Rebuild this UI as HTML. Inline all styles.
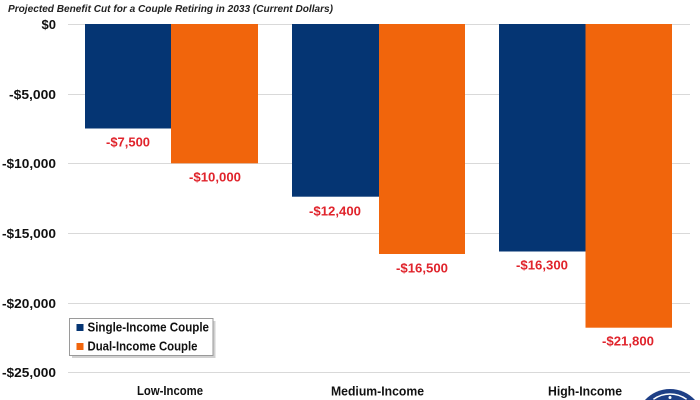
<!DOCTYPE html>
<html><head><meta charset="utf-8"><style>
html,body{margin:0;padding:0;background:#fff;width:700px;height:400px;overflow:hidden;}
svg{display:block;overflow:hidden;}
text{font-family:"Liberation Sans",Arial,sans-serif;font-weight:bold;}
</style></head><body>
<svg width="700" height="400" viewBox="0 0 700 400" xmlns="http://www.w3.org/2000/svg">
<rect width="700" height="400" fill="#fff"/>
<text x="8" y="12" font-size="10.5" font-style="italic" fill="#222" textLength="325" lengthAdjust="spacingAndGlyphs">Projected Benefit Cut for a Couple Retiring in 2033 (Current Dollars)</text>
<g stroke="#d9d9d9" stroke-width="1">
<line x1="68" y1="24.5" x2="690" y2="24.5"/>
<line x1="68" y1="94.5" x2="690" y2="94.5"/>
<line x1="68" y1="163.5" x2="690" y2="163.5"/>
<line x1="68" y1="233.5" x2="690" y2="233.5"/>
<line x1="68" y1="303.5" x2="690" y2="303.5"/>
<line x1="68" y1="372.5" x2="690" y2="372.5"/>
</g>
<g font-size="13" fill="#111" text-anchor="end">
<text x="56" y="29">$0</text>
<text x="56" y="99" textLength="47" lengthAdjust="spacingAndGlyphs">-$5,000</text>
<text x="56" y="168" textLength="54" lengthAdjust="spacingAndGlyphs">-$10,000</text>
<text x="56" y="238" textLength="54" lengthAdjust="spacingAndGlyphs">-$15,000</text>
<text x="56" y="308" textLength="54" lengthAdjust="spacingAndGlyphs">-$20,000</text>
<text x="56" y="377" textLength="54" lengthAdjust="spacingAndGlyphs">-$25,000</text>
</g>
<g fill="#053573">
<rect x="85" y="24" width="86" height="104.5"/>
<rect x="292" y="24" width="87" height="172.7"/>
<rect x="499" y="24" width="86.5" height="227.5"/>
</g>
<g fill="#f1650c">
<rect x="171" y="24" width="87" height="139.3"/>
<rect x="379" y="24" width="86" height="230"/>
<rect x="585.5" y="24" width="86.5" height="303.7"/>
</g>
<g font-size="13" fill="#e0242c" text-anchor="middle">
<text x="128" y="146.5" textLength="44" lengthAdjust="spacingAndGlyphs">-$7,500</text>
<text x="215" y="181.5" textLength="52" lengthAdjust="spacingAndGlyphs">-$10,000</text>
<text x="335" y="215.5" textLength="52" lengthAdjust="spacingAndGlyphs">-$12,400</text>
<text x="422" y="272.5" textLength="52" lengthAdjust="spacingAndGlyphs">-$16,500</text>
<text x="542" y="269.5" textLength="52" lengthAdjust="spacingAndGlyphs">-$16,300</text>
<text x="628" y="345.5" textLength="52" lengthAdjust="spacingAndGlyphs">-$21,800</text>
</g>
<g font-size="13" fill="#111" text-anchor="middle">
<text x="170" y="395" textLength="66" lengthAdjust="spacingAndGlyphs">Low-Income</text>
<text x="377.5" y="395.5" textLength="93" lengthAdjust="spacingAndGlyphs">Medium-Income</text>
<text x="585" y="395.5" textLength="74" lengthAdjust="spacingAndGlyphs">High-Income</text>
</g>
<rect x="72" y="321" width="143.5" height="37" fill="#bdbdbd" opacity="0.7"/>
<rect x="69.5" y="318.5" width="143.5" height="37" fill="#fff" stroke="#9a9a9a" stroke-width="1"/>
<rect x="76.5" y="324" width="7" height="7" fill="#053573"/>
<rect x="76.5" y="343" width="7" height="7" fill="#f1650c"/>
<g font-size="12.5" fill="#111">
<text x="87.5" y="331.5" textLength="121.5" lengthAdjust="spacingAndGlyphs">Single-Income Couple</text>
<text x="87.5" y="350.5" textLength="110" lengthAdjust="spacingAndGlyphs">Dual-Income Couple</text>
</g>
<path d="M644.96,400 A34,34 0 0 1 695.04,400 Z" fill="#1e3f86"/>
<path d="M653.4,399.3 A28.5,28.5 0 0 1 686.6,399.3" fill="none" stroke="#fff" stroke-width="1.5"/>
<circle cx="670" cy="397.5" r="1.5" fill="#fff"/>
</svg>
</body></html>
